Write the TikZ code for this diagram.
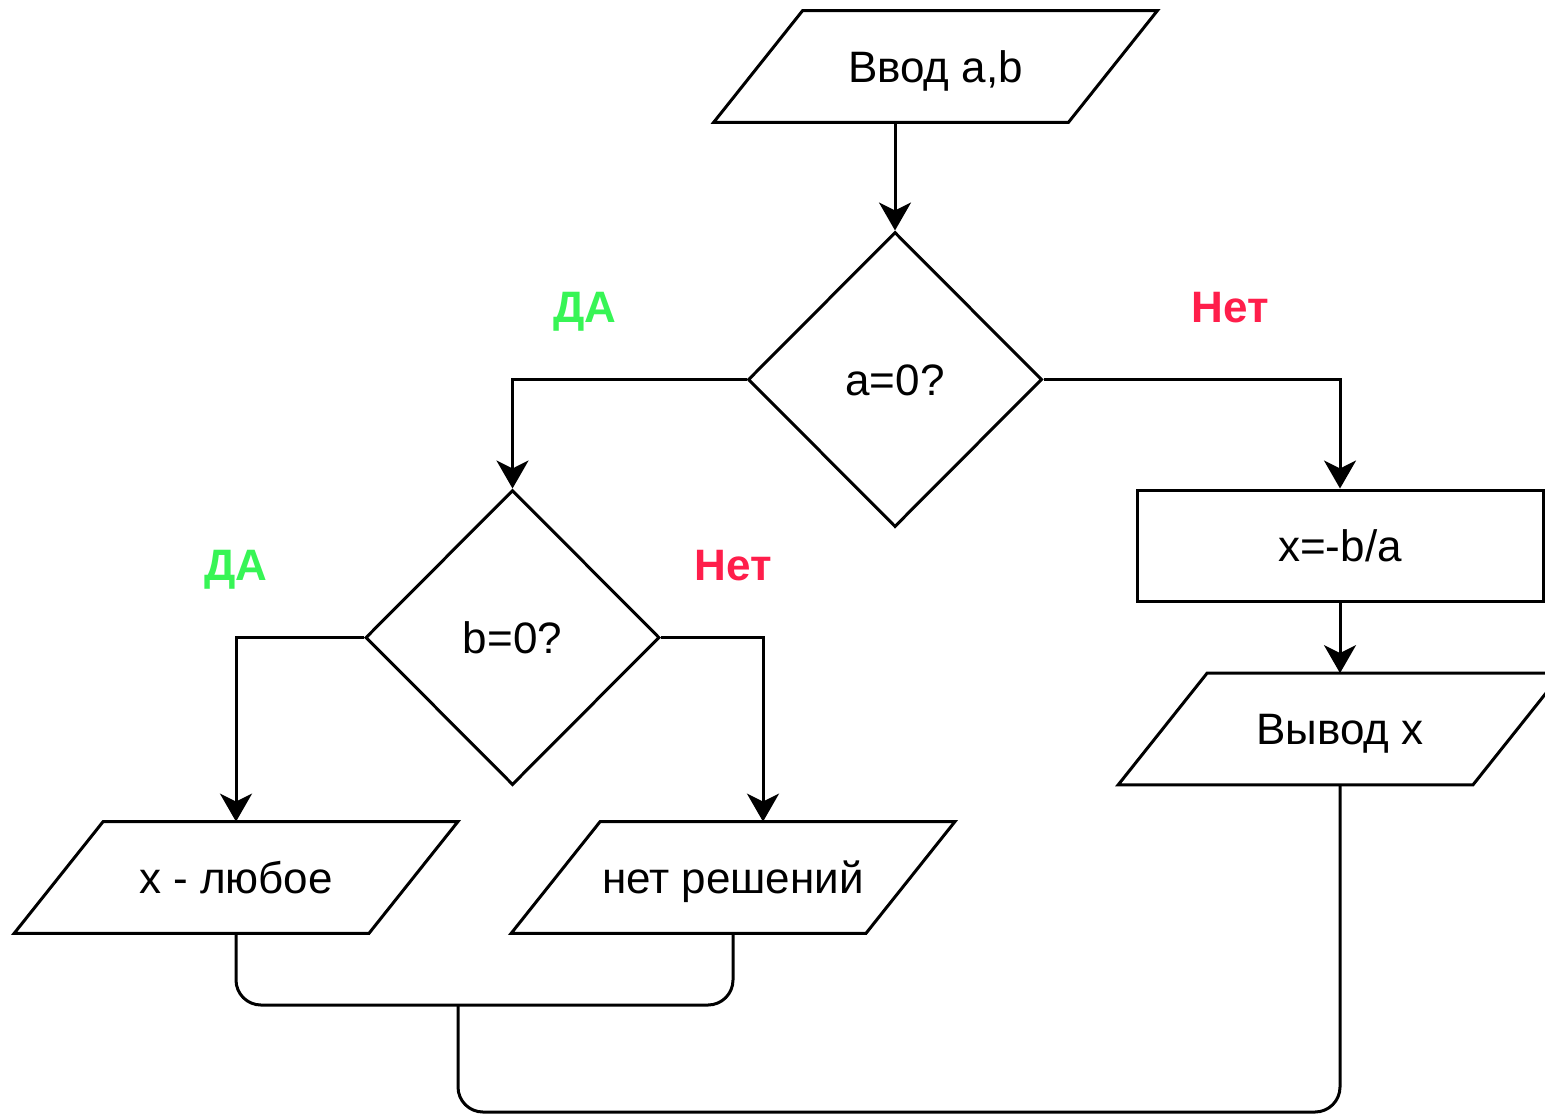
\documentclass[tikz,border=0pt]{standalone}
\usepackage{fontspec}
\setmainfont{Liberation Sans}
\usetikzlibrary{shapes.geometric,arrows.meta}
\definecolor{yesgreen}{RGB}{55,245,85}
\definecolor{nored}{RGB}{255,30,75}
% outline of an input/output block around a named node
\newcommand\ioframe[1]{%
  \draw[line] ([xshift=22.25pt]#1.north west) -- ([xshift=22.25pt]#1.north east)
    -- ([xshift=-22.25pt]#1.south east) -- ([xshift=-22.25pt]#1.south west) -- cycle;}
\begin{document}
\begin{tikzpicture}[x=0.5pt,y=-0.5pt,
  every node/.style={font=\fontsize{22pt}{26pt}\selectfont,text height=15.75pt,text depth=0pt},
  base/.style={draw=black,line width=1.5pt,fill=white,inner sep=0pt},
  io/.style={rectangle,inner sep=0pt,minimum width=177pt,minimum height=55.5pt},
  decision/.style={base,diamond,minimum width=147pt,minimum height=147.5pt},
  process/.style={base,rectangle,minimum width=203pt,minimum height=55.5pt},
  line/.style={draw=black,line width=1.5pt},
  arr/.style={line,-{Stealth[length=14pt,width=16pt,inset=4pt]}},
  yes/.style={text=yesgreen,font=\fontsize{22pt}{26pt}\selectfont\bfseries},
  no/.style={text=nored,font=\fontsize{22pt}{26pt}\selectfont\bfseries}]
  \useasboundingbox (0,0) rectangle (1545,1115);
  \clip (0,0) rectangle (1545,1115);
  \fill[white] (0,0) rectangle (1545,1115);

  % blocks
  \node[io] (in) at (935.5,66.5) {Ввод a,b};
  \node[decision] (d1) at (895,379.5) {a=0?};
  \node[decision] (d2) at (512.5,637.5) {b=0?};
  \node[process] (calc) at (1340,545.5) {x=-b/a};
  \node[io] (out) at (1340,729) {Вывод x};
  \node[io] (xany) at (236,877.5) {x - любое};
  \node[io] (nosol) at (733,877.5) {нет решений};
  \ioframe{in}
  \ioframe{out}
  \ioframe{xany}
  \ioframe{nosol}

  % branch labels
  \node[yes] (y1) at (585,307) {ДА};
  \node[no] (n1) at (1230,307) {Нет};
  \node[yes] (y2) at (236,565) {ДА};
  \node[no] (n2) at (733,565) {Нет};

  % junction points of the closing lines
  \coordinate (j1) at (458,1005);
  \coordinate (j2) at (900,1112);
  \coordinate (nsin) at ([xshift=15pt]nosol.north);

  % connectors
  \draw[arr] (d1.north |- in.south) -- (d1.north);
  \draw[arr] (d1.west) -| (d2.north);
  \draw[arr] (d1.east) -| (calc.north);
  \draw[arr] (calc.south) -- (out.north);
  \draw[arr] (d2.west) -| (xany.north);
  \draw[arr] (d2.east) -| (nsin);
  \draw[line,rounded corners=12.5pt] (xany.south) |- (j1) -| (nosol.south);
  \draw[line,rounded corners=12.5pt] (j1) |- (j2) -| (out.south);
\end{tikzpicture}
\end{document}
